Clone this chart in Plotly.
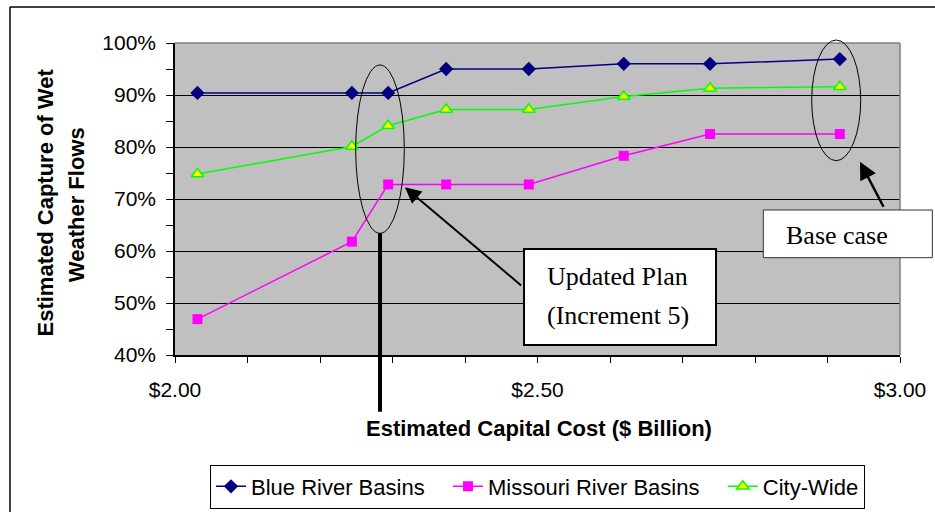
import plotly.graph_objects as go

# ---- data ----
capital_cost = [2.031, 2.244, 2.294, 2.374, 2.488, 2.619, 2.738, 2.917]
blue_river = [90.4, 90.4, 90.4, 95.0, 95.0, 96.0, 96.0, 96.9]
missouri_river = [46.9, 61.8, 72.8, 72.8, 72.8, 78.3, 82.5, 82.5]
city_wide = [74.8, 80.1, 84.1, 87.2, 87.2, 89.7, 91.3, 91.6]

series_names = ["Blue River Basins", "Missouri River Basins", "City-Wide"]

x_tick_vals = [2.0, 2.5, 3.0]
x_tick_text = ["$2.00", "$2.50", "$3.00"]
y_tick_vals = [40, 50, 60, 70, 80, 90, 100]
y_tick_text = ["40%", "50%", "60%", "70%", "80%", "90%", "100%"]

SANS = "Liberation Sans, Arial, sans-serif"
SERIF = "Liberation Serif, Times New Roman, serif"
PAD = "\u00a0\u00a0\u00a0"  # extra spacing between legend entries

fig = go.Figure()
fig.add_trace(go.Scatter(
    x=capital_cost, y=blue_river, name=series_names[0] + PAD, mode="lines+markers",
    line=dict(color="#000080", width=1.5),
    marker=dict(symbol="diamond", size=11, color="#000080")))
fig.add_trace(go.Scatter(
    x=capital_cost, y=missouri_river, name=series_names[1] + PAD, mode="lines+markers",
    line=dict(color="#FF00FF", width=1.5),
    marker=dict(symbol="square", size=10, color="#FF00FF")))
fig.add_trace(go.Scatter(
    x=capital_cost, y=city_wide, name=series_names[2], mode="lines+markers",
    line=dict(color="#00FF00", width=1.5),
    marker=dict(symbol="triangle-up", size=11, color="#FFFF00",
                line=dict(color="#00FF00", width=1.5))))

fig.update_layout(
    width=935, height=512,
    margin=dict(l=175, r=35, t=43, b=157, autoexpand=False),
    paper_bgcolor="white", plot_bgcolor="#C0C0C0",
    font=dict(family=SANS, size=21, color="black"),
    showlegend=True,
    legend=dict(orientation="h", x=0.5, xanchor="center", y=-0.351, yanchor="top",
                bordercolor="black", borderwidth=1, bgcolor="white",
                font=dict(family=SANS, size=22)),
)
fig.update_xaxes(
    range=[2.0, 3.0], tickvals=x_tick_vals, ticktext=x_tick_text,
    ticks="outside", ticklen=6, tickcolor="black", tickwidth=1,
    minor=dict(dtick=0.1, tick0=2.0, ticks="outside", ticklen=6, tickcolor="black", showgrid=False),
    showline=True, linecolor="black", linewidth=1.5, showgrid=False, zeroline=False,
    ticklabelstandoff=9, tickfont=dict(size=21), automargin=False,
)
fig.update_yaxes(
    range=[40, 100], tickvals=y_tick_vals, ticktext=y_tick_text,
    ticks="outside", ticklen=7, tickcolor="black", tickwidth=1,
    minor=dict(dtick=5, tick0=40, ticks="outside", ticklen=7, tickcolor="black", showgrid=False),
    showline=True, linecolor="black", linewidth=1.5,
    showgrid=True, gridcolor="black", gridwidth=1, zeroline=False,
    ticklabelstandoff=6, tickfont=dict(size=21), automargin=False,
)

shapes = [
    # plot area top/right border (gray)
    dict(type="line", xref="paper", yref="paper", x0=0, x1=1, y0=1, y1=1,
         line=dict(color="#808080", width=1.5), layer="above"),
    dict(type="line", xref="paper", yref="paper", x0=1, x1=1, y0=0, y1=1,
         line=dict(color="#808080", width=1.5), layer="above"),
    # outer chart frame (top and left visible)
    dict(type="line", xref="paper", yref="paper", x0=-0.2276, x1=1.1, y0=1.1154, y1=1.1154,
         line=dict(color="black", width=1.5)),
    dict(type="line", xref="paper", yref="paper", x0=-0.2276, x1=-0.2276, y0=1.1154, y1=-0.6,
         line=dict(color="black", width=1.5)),
    # ellipse around Increment 5
    dict(type="circle", xref="paper", yref="paper", x0=0.2492, x1=0.3163, y0=0.390, y1=0.9295,
         line=dict(color="black", width=1)),
    # thick marker line down from ellipse
    dict(type="line", xref="paper", yref="paper", x0=0.2828, x1=0.2828, y0=0.390, y1=-0.1817,
         line=dict(color="black", width=4)),
    # ellipse around base case
    dict(type="circle", xref="paper", yref="paper", x0=0.8782, x1=0.9458, y0=0.6228, y1=1.0096,
         line=dict(color="black", width=1)),
    # Updated Plan box
    dict(type="rect", xref="paper", yref="paper", x0=0.4814, x1=0.7462, y0=0.0321, y1=0.3397,
         fillcolor="white", line=dict(color="black", width=2)),
    # Base case box
    dict(type="rect", xref="paper", yref="paper", x0=0.8115, x1=1.0446, y0=0.3119, y1=0.4647,
         fillcolor="white", line=dict(color="#333333", width=1)),
]
fig.update_layout(shapes=shapes)

annotations = [
    # arrows
    dict(xref="paper", yref="paper", x=0.3172, y=0.5375, ax=117.7, ay=99.4, text="",
         showarrow=True, arrowhead=2, arrowsize=1.6, arrowwidth=2, arrowcolor="black"),
    dict(xref="paper", yref="paper", x=0.9448, y=0.6196, ax=24.3, ay=46.6, text="",
         showarrow=True, arrowhead=2, arrowsize=1.4, arrowwidth=2.5, arrowcolor="black"),
    # box texts
    dict(xref="paper", yref="paper", x=0.5103, y=0.251, xanchor="left", yanchor="middle",
         text="Updated Plan", showarrow=False, font=dict(family=SERIF, size=26)),
    dict(xref="paper", yref="paper", x=0.5103, y=0.1282, xanchor="left", yanchor="middle",
         text="(Increment 5)", showarrow=False, font=dict(family=SERIF, size=26)),
    dict(xref="paper", yref="paper", x=0.8404, y=0.3846, xanchor="left", yanchor="middle",
         text="Base case", showarrow=False, font=dict(family=SERIF, size=26)),
    # axis titles
    dict(xref="paper", yref="paper", x=0.5014, y=-0.234, xanchor="center", yanchor="middle",
         text="<b>Estimated Capital Cost ($ Billion)</b>", showarrow=False,
         font=dict(family=SANS, size=22)),
    dict(xref="paper", yref="paper", x=-0.1793, y=0.4888, xanchor="center", yanchor="middle",
         text="<b>Estimated Capture of Wet</b>", showarrow=False, textangle=-90,
         font=dict(family=SANS, size=22)),
    dict(xref="paper", yref="paper", x=-0.1356, y=0.4824, xanchor="center", yanchor="middle",
         text="<b>Weather Flows</b>", showarrow=False, textangle=-90,
         font=dict(family=SANS, size=22)),
]
fig.update_layout(annotations=annotations)

fig.write_html("out.html")
